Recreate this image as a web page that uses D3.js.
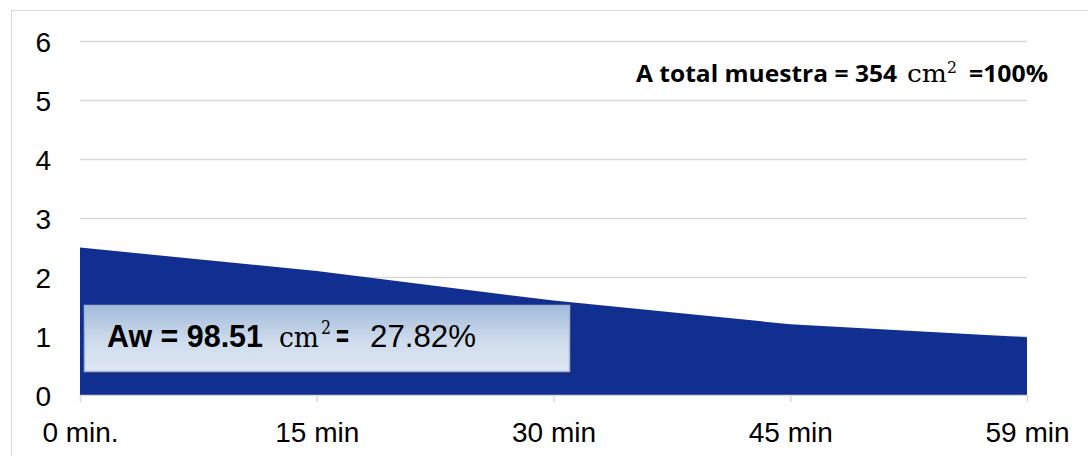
<!DOCTYPE html>
<html><head><meta charset="utf-8">
<script src="https://cdn.jsdelivr.net/npm/d3@7"></script>
<style>body{margin:0;background:#fff}svg{display:block}</style>
</head><body>
<script>
const categories = ["0 min.", "15 min", "30 min", "45 min", "59 min"];
const values = [2.5, 2.1, 1.6, 1.2, 0.98];
const yTicks = [0, 1, 2, 3, 4, 5, 6];

const W = 1088, H = 456;
const svg = d3.select("body").append("svg").attr("width", W).attr("height", H);
const defs = svg.append("defs");
const g1 = defs.append("linearGradient").attr("id","boxg").attr("x1",0).attr("y1",0).attr("x2",0).attr("y2",1);
g1.append("stop").attr("offset","0%").attr("stop-color","#a3bbdb");
g1.append("stop").attr("offset","55%").attr("stop-color","#cfdcec");
g1.append("stop").attr("offset","100%").attr("stop-color","#dfe8f3");

svg.append("rect").attr("x",11.5).attr("y",10.5).attr("width",1090).attr("height",460)
  .attr("fill","none").attr("stroke","#d9d9d9");

const x = d3.scalePoint().domain(categories).range([80, 1027]);
const y = d3.scaleLinear().domain([0, 6]).range([395, 41]);

// gridlines
svg.append("g").selectAll("line").data(yTicks.filter(d=>d>0)).join("line")
  .attr("x1",80).attr("x2",1027).attr("y1",d=>y(d)+0.5).attr("y2",d=>y(d)+0.5)
  .attr("stroke","#d9d9d9").attr("stroke-width",1.5);

// area
const area = d3.area().x((d,i)=>x(categories[i])).y0(y(0)).y1(d=>y(d));
svg.append("path").datum(values).attr("d", area).attr("fill","#112f91");

// x axis
const xa = svg.append("g").attr("transform",`translate(0,${y(0)})`)
  .call(d3.axisBottom(x).tickSize(7).tickPadding(0));
xa.select(".domain").attr("stroke","#d9d9d9").attr("stroke-width",1.5).attr("d","M80,0.5H1027");
xa.selectAll(".tick line").attr("stroke","#d9d9d9").attr("stroke-width",1.5);
xa.selectAll("text").attr("font-family","Liberation Sans, Arial, sans-serif").attr("font-size",28)
  .attr("fill","#000").attr("y",47).attr("dy",0);

// y axis
const ya = svg.append("g").attr("transform",`translate(80,0)`)
  .call(d3.axisLeft(y).tickValues(yTicks).tickFormat(d3.format("d")).tickSize(0).tickPadding(29));
ya.select(".domain").remove();
ya.selectAll("text").attr("font-family","Liberation Sans, Arial, sans-serif").attr("font-size",28).attr("fill","#000").attr("dy","0.36em");

// label box
svg.append("rect").attr("x",88).attr("y",309).attr("width",484).attr("height",66).attr("fill","#1b2f6b").attr("opacity",0.6);
svg.append("rect").attr("x",84.5).attr("y",305.5).attr("width",485).attr("height",66)
  .attr("fill","url(#boxg)").attr("stroke","#9fb6d6").attr("stroke-width",1.5);
const sans = "Liberation Sans, Arial, sans-serif", serif = "DejaVu Serif, Liberation Serif, serif";
function txt(xp, yp, s, fam, size, weight, len){
  const t = svg.append("text").attr("x",xp).attr("y",yp).attr("font-family",fam).attr("font-size",size)
    .attr("font-weight",weight||"normal").attr("fill","#000").text(s);
  if (len) t.attr("textLength",len).attr("lengthAdjust","spacingAndGlyphs");
  return t;
}
txt(107, 347, "Aw = 98.51", sans, 31, "bold", 156);
txt(279, 347, "cm", serif, 28, "normal", 40);
txt(321, 334, "2", serif, 19, "normal", 10);
txt(336, 347, "=", sans, 31, "bold", 13);
txt(370, 347, "27.82%", sans, 31, "normal", 106);

// total label
const osans = "Open Sans, sans-serif";
txt(636, 82, "A total muestra = 354", osans, 23, "bold", 261);
txt(907, 82, "cm", serif, 24, "normal", 40);
txt(947, 73, "2", serif, 17, "normal", 10);
txt(969, 82, "=100%", osans, 23, "bold", 79);
</script>
</body></html>
